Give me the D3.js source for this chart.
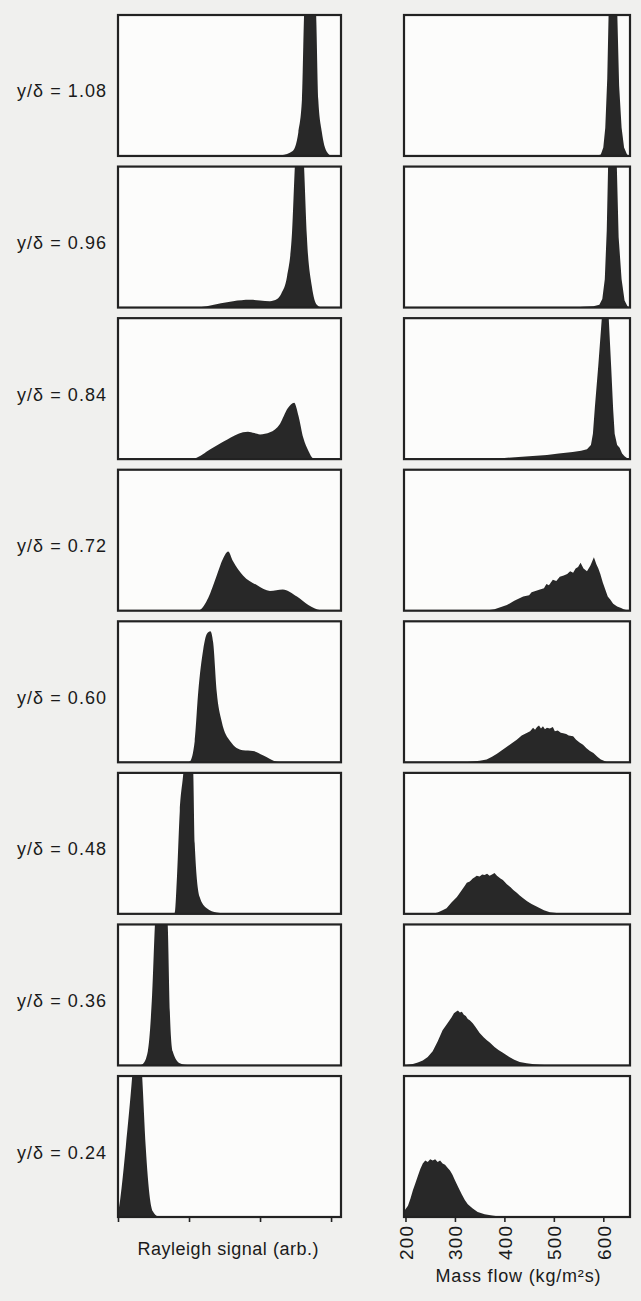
<!DOCTYPE html>
<html>
<head>
<meta charset="utf-8">
<script src="https://cdn.jsdelivr.net/npm/d3@7"></script>
<style>
  html, body { margin: 0; padding: 0; background: #f0f0ee; }
  svg { display: block; }
  text { font-family: "Liberation Sans", Arial, Helvetica, sans-serif; fill: #1a1a1a; }
</style>
</head>
<body>
<svg id="chart" width="641" height="1301"></svg>
<script>
// ---- Data ----
const positions = ["1.08", "0.96", "0.84", "0.72", "0.60", "0.48", "0.36", "0.24"];
const rowLabels = positions.map(p => "y/\u03b4 = " + p);

// Rayleigh signal (arb.) histograms: [signal, relative count]; >1 is clipped at panel top
const ray108 = [[2.0,0],[2.3,0.005],[2.46,0.035],[2.54,0.17],[2.59,0.4],[2.62,1.0],[2.70,1.6],[2.79,1.0],[2.82,0.4],[2.87,0.17],[2.94,0.03],[3.01,0]];
const ray096 = [[1.1,0],[1.25,0.01],[1.45,0.03],[1.62,0.045],[1.86,0.055],[2.0,0.05],[2.14,0.045],[2.24,0.06],[2.30,0.1],[2.38,0.22],[2.45,0.53],[2.49,1.0],[2.56,1.6],[2.62,1.0],[2.66,0.5],[2.73,0.15],[2.80,0.02],[2.87,0]];
const ray084 = [[1.0,0],[1.08,0.005],[1.30,0.07],[1.54,0.14],[1.76,0.19],[1.83,0.195],[1.92,0.185],[2.00,0.175],[2.14,0.19],[2.28,0.25],[2.39,0.36],[2.48,0.40],[2.54,0.31],[2.61,0.15],[2.68,0.06],[2.75,0.005],[2.8,0]];
const ray072 = [[1.1,0],[1.15,0.005],[1.27,0.09],[1.39,0.25],[1.48,0.37],[1.55,0.42],[1.62,0.35],[1.76,0.25],[1.96,0.18],[2.14,0.14],[2.32,0.15],[2.52,0.10],[2.68,0.04],[2.85,0.003],[2.9,0]];
const ray060 = [[0.98,0],[1.01,0.005],[1.08,0.15],[1.13,0.5],[1.20,0.8],[1.25,0.91],[1.30,0.93],[1.34,0.85],[1.39,0.5],[1.46,0.29],[1.58,0.15],[1.76,0.085],[1.90,0.08],[2.04,0.05],[2.24,0.003],[2.3,0]];
const ray048 = [[0.78,0],[0.80,0.01],[0.83,0.26],[0.87,0.73],[0.92,1.0],[0.99,1.5],[1.06,1.0],[1.08,0.5],[1.15,0.12],[1.25,0.04],[1.39,0.01],[1.58,0]];
const ray036 = [[0.3,0],[0.35,0.01],[0.42,0.1],[0.48,0.5],[0.52,1.0],[0.61,1.5],[0.70,1.0],[0.73,0.38],[0.77,0.1],[0.87,0.015],[1.01,0]];
const ray024 = [[0,0.02],[0.03,0.12],[0.11,0.5],[0.20,1.0],[0.27,1.5],[0.34,1.0],[0.39,0.5],[0.45,0.13],[0.49,0.04],[0.56,0.005],[0.65,0]];
const rayleighSeries = [ray108, ray096, ray084, ray072, ray060, ray048, ray036, ray024];
const rayleighTicks = [0, 1, 2, 3];

// Mass flow (kg/m^2 s) histograms: [mass flow, relative count]
const mf108 = [[585,0],[595,0.01],[600,0.06],[604,0.2],[608,0.55],[611,1.05],[620,1.5],[628,1.05],[632,0.5],[637,0.2],[642,0.06],[648,0.01],[654,0]];
const mf096 = [[540,0],[560,0.005],[580,0.01],[592,0.02],[598,0.06],[603,0.2],[607,0.55],[610,1.05],[619,1.5],[627,1.05],[631,0.5],[637,0.2],[643,0.05],[649,0.01],[654,0]];
const mf084 = [[360,0],[400,0.008],[450,0.02],[486,0.03],[510,0.04],[538,0.05],[555,0.06],[567,0.07],[575,0.1],[579,0.18],[583,0.37],[590,0.67],[597,1.0],[604,1.5],[611,1.0],[616,0.65],[620,0.35],[623,0.18],[628,0.1],[633,0.08],[638,0.04],[643,0.02],[651,0]];
const mf072 = [[360,0],[380,0.01],[405,0.04],[420,0.07],[438,0.1],[450,0.11],[455,0.13],[472,0.15],[480,0.16],[485,0.19],[490,0.18],[498,0.22],[505,0.21],[512,0.24],[520,0.25],[527,0.26],[533,0.28],[539,0.27],[544,0.3],[549,0.31],[554,0.34],[560,0.3],[567,0.28],[574,0.32],[581,0.38],[586,0.33],[590,0.3],[594,0.26],[599,0.2],[604,0.15],[609,0.1],[614,0.08],[620,0.05],[628,0.03],[636,0.02],[641,0.01],[651,0]];
const mf060 = [[320,0],[335,0.005],[350,0.01],[364,0.02],[375,0.04],[385,0.06],[395,0.085],[405,0.11],[415,0.135],[425,0.16],[435,0.19],[446,0.21],[452,0.22],[458,0.245],[462,0.23],[466,0.25],[470,0.26],[474,0.24],[478,0.255],[482,0.235],[486,0.245],[492,0.24],[498,0.25],[502,0.22],[508,0.225],[514,0.21],[519,0.205],[525,0.2],[530,0.19],[539,0.185],[545,0.16],[552,0.14],[559,0.125],[566,0.1],[573,0.08],[580,0.065],[588,0.04],[595,0.02],[600,0.012],[608,0]];
const mf048 = [[255,0],[265,0.01],[275,0.025],[283,0.04],[293,0.08],[304,0.12],[314,0.17],[320,0.2],[324,0.22],[330,0.23],[336,0.25],[340,0.26],[344,0.27],[350,0.265],[355,0.28],[360,0.275],[365,0.285],[370,0.27],[375,0.28],[380,0.29],[385,0.27],[392,0.25],[397,0.24],[405,0.21],[412,0.19],[418,0.17],[425,0.15],[431,0.13],[438,0.11],[446,0.09],[455,0.07],[466,0.05],[480,0.025],[492,0.012],[510,0.004],[527,0]];
const mf036 = [[197,0],[205,0.005],[215,0.01],[225,0.02],[235,0.035],[245,0.06],[255,0.1],[265,0.17],[275,0.25],[285,0.3],[293,0.34],[298,0.37],[302,0.38],[306,0.39],[310,0.375],[314,0.38],[318,0.36],[322,0.35],[326,0.33],[330,0.32],[336,0.3],[342,0.27],[350,0.23],[358,0.2],[364,0.18],[371,0.16],[380,0.13],[388,0.11],[397,0.09],[410,0.06],[420,0.04],[431,0.025],[445,0.015],[460,0.008],[472,0.005],[490,0.002],[513,0]];
const mf024 = [[197,0.04],[205,0.08],[210,0.13],[215,0.19],[220,0.24],[225,0.29],[230,0.34],[235,0.38],[240,0.40],[245,0.39],[250,0.41],[255,0.4],[260,0.41],[265,0.39],[270,0.40],[275,0.38],[280,0.37],[285,0.35],[290,0.33],[295,0.3],[300,0.26],[307,0.21],[314,0.16],[320,0.12],[326,0.09],[336,0.06],[346,0.035],[360,0.02],[375,0.01],[390,0.004],[401,0]];
const massSeries = [mf108, mf096, mf084, mf072, mf060, mf048, mf036, mf024];
const massTicks = [200, 300, 400, 500, 600];

const rayleighTitle = "Rayleigh signal (arb.)";
const massTitle = "Mass flow (kg/m\u00b2s)";

// ---- Layout ----
const svg = d3.select("#chart");
const ink = "#222222";

const rowBand = d3.scaleBand().domain(positions).range([15, 1217]).paddingInner(0.07).paddingOuter(0);
const xRay = d3.scaleLinear().domain([0, 3.14]).range([118, 341]);
const xMass = d3.scaleLinear().domain([197, 654]).range([404, 630]);

const defs = svg.append("defs");

function drawColumn(series, xs, curve, id) {
  series.forEach((data, i) => {
    const top = rowBand(positions[i]);
    const h = rowBand.bandwidth();
    const y = d3.scaleLinear().domain([0, 1]).range([top + h, top]);
    const [x0, x1] = xs.range();
    const clipId = id + i;
    defs.append("clipPath").attr("id", clipId)
      .append("rect").attr("x", x0).attr("y", top).attr("width", x1 - x0).attr("height", h);
    svg.append("rect").attr("x", x0).attr("y", top).attr("width", x1 - x0).attr("height", h)
      .attr("fill", "#fcfcfb");
    const area = d3.area().x(d => xs(d[0])).y0(y(0)).y1(d => y(d[1])).curve(curve);
    svg.append("path").datum(data).attr("d", area)
      .attr("clip-path", `url(#${clipId})`)
      .attr("fill", "#282828");
    svg.append("rect").attr("x", x0).attr("y", top).attr("width", x1 - x0).attr("height", h)
      .attr("fill", "none").attr("stroke", ink).attr("stroke-width", 2.2);
  });
}

drawColumn(rayleighSeries, xRay, d3.curveMonotoneX, "clipR");
drawColumn(massSeries, xMass, d3.curveLinear, "clipM");

// Row labels
positions.forEach((p, i) => {
  const top = rowBand(p);
  svg.append("text")
    .attr("x", 106).attr("y", top + rowBand.bandwidth() / 2 + 12)
    .attr("text-anchor", "end")
    .attr("font-size", 18)
    .attr("textLength", 89).attr("lengthAdjust", "spacing")
    .text(rowLabels[i]);
});

// Bottom axes
const bottom = rowBand(positions[7]) + rowBand.bandwidth();

const axR = svg.append("g").attr("transform", `translate(0,${bottom})`)
  .call(d3.axisBottom(xRay).tickValues(rayleighTicks).tickSize(5).tickFormat(""));
axR.select(".domain").remove();
axR.selectAll("line").attr("stroke", ink).attr("stroke-width", 1.6);

const axM = svg.append("g").attr("transform", `translate(0,${bottom})`)
  .call(d3.axisBottom(xMass).tickValues(massTicks).tickSize(5).tickFormat(d3.format("d")));
axM.select(".domain").remove();
axM.selectAll("line").attr("stroke", ink).attr("stroke-width", 1.6);
axM.selectAll("text")
  .attr("transform", "rotate(-90)")
  .attr("x", -9).attr("y", 0).attr("dy", "0.36em")
  .attr("text-anchor", "end")
  .attr("font-size", 19)
  .attr("font-family", "'Liberation Sans', Arial, sans-serif")
  .attr("fill", "#1a1a1a")
  .attr("textLength", 34).attr("lengthAdjust", "spacing");

// Axis titles
svg.append("text").attr("x", 228).attr("y", 1255).attr("text-anchor", "middle")
  .attr("font-size", 18).attr("textLength", 181).attr("lengthAdjust", "spacing")
  .text(rayleighTitle);
svg.append("text").attr("x", 518).attr("y", 1282).attr("text-anchor", "middle")
  .attr("font-size", 18).attr("textLength", 165).attr("lengthAdjust", "spacing")
  .text(massTitle);
</script>
</body>
</html>
